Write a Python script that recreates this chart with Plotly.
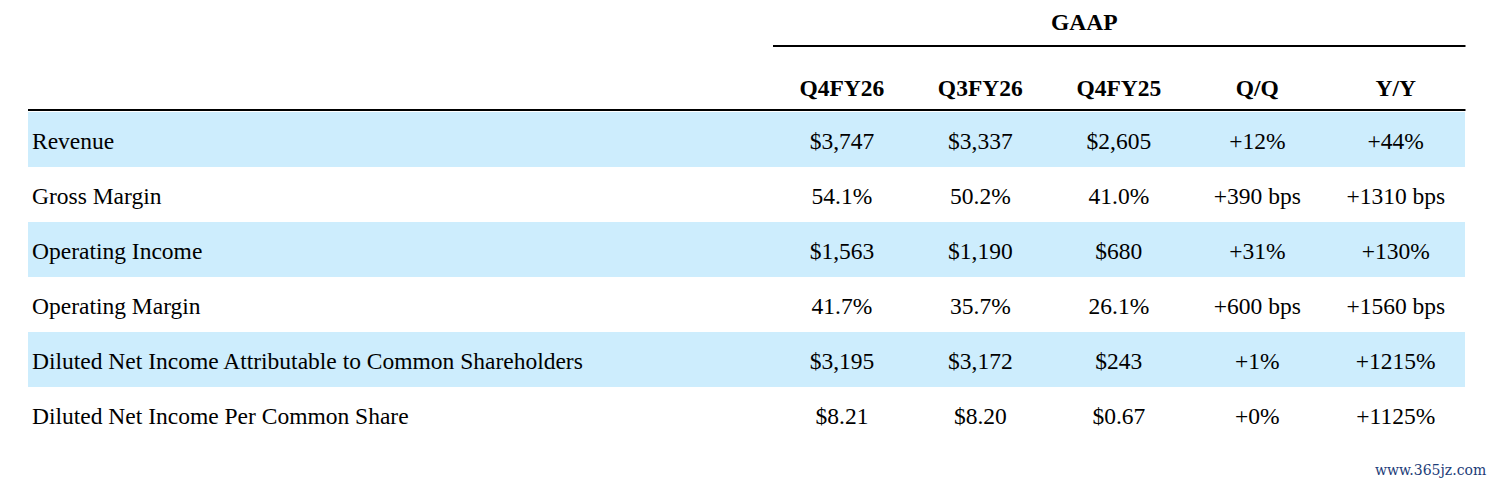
import plotly.graph_objects as go

W, H = 1496, 486

metrics = ["Revenue", "Gross Margin", "Operating Income", "Operating Margin",
           "Diluted Net Income Attributable to Common Shareholders",
           "Diluted Net Income Per Common Share"]
periods = ["Q4FY26", "Q3FY26", "Q4FY25", "Q/Q", "Y/Y"]
q4fy26 = ["$3,747", "54.1%", "$1,563", "41.7%", "$3,195", "$8.21"]
q3fy26 = ["$3,337", "50.2%", "$1,190", "35.7%", "$3,172", "$8.20"]
q4fy25 = ["$2,605", "41.0%", "$680", "26.1%", "$243", "$0.67"]
qoq = ["+12%", "+390 bps", "+31%", "+600 bps", "+1%", "+0%"]
yoy = ["+44%", "+1310 bps", "+130%", "+1560 bps", "+1215%", "+1125%"]

blue = "#cdedfd"
row_fill = [blue if i % 2 == 0 else "white" for i in range(len(metrics))]
serif = "Liberation Serif"
fsize = 23.5
OFF = 8  # page margin the browser adds around the plot


def px(x):
    return (x - OFF) / W


def py(y):
    return 1 - (y - OFF) / H


right = 1465.5
colw = 138.5

# background bands (one column so no seams between cells)
bands = go.Table(
    domain=dict(x=[px(28), px(right)], y=[py(470), py(53.5)]),
    columnwidth=[1],
    header=dict(values=[""], height=58, fill_color="white", line_width=0),
    cells=dict(values=[[""] * len(metrics)], height=55,
               fill_color=[row_fill], line_width=0),
)

# text layer, nudged down so the labels sit in the middle of each band
labels = go.Table(
    domain=dict(x=[px(24), px(right)], y=[py(480), py(66.5)]),
    columnwidth=[749] + [colw] * 5,
    header=dict(values=[""] + ["<b>%s</b>" % p for p in periods],
                align=["left"] + ["center"] * 5,
                height=57,
                fill_color="rgba(0,0,0,0)",
                line_width=0,
                font=dict(family=serif, size=fsize, color="black")),
    cells=dict(values=[metrics, q4fy26, q3fy26, q4fy25, qoq, yoy],
               align=["left"] + ["center"] * 5,
               height=55,
               fill_color="rgba(0,0,0,0)",
               line_width=0,
               font=dict(family=serif, size=fsize, color="black")),
)

fig = go.Figure([bands, labels])

# rules under the GAAP group label and under the header row
fig.add_shape(type="line", xref="paper", yref="paper",
              x0=px(773), x1=px(right), y0=py(46), y1=py(46),
              line=dict(color="black", width=2))
fig.add_shape(type="line", xref="paper", yref="paper",
              x0=px(28), x1=px(right), y0=py(110), y1=py(110),
              line=dict(color="black", width=2))

fig.add_annotation(text="<b>GAAP</b>", xref="paper", yref="paper",
                   x=px(1120), y=py(22), yanchor="middle", showarrow=False,
                   font=dict(family=serif, size=fsize, color="black"))
fig.add_annotation(text="www.365jz.com", xref="paper", yref="paper",
                   x=px(1488), y=py(470), xanchor="right", yanchor="middle",
                   showarrow=False,
                   font=dict(family="DejaVu Serif", size=14, color="#1c3c78"))

fig.update_layout(width=W, height=H, margin=dict(l=0, r=0, t=0, b=0),
                  paper_bgcolor="white", plot_bgcolor="white")

fig.write_html("out.html")
